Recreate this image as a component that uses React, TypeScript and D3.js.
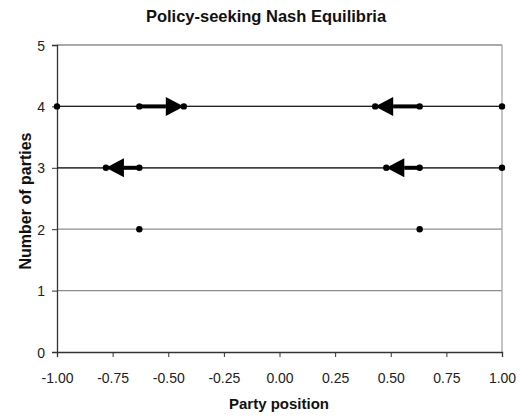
import React, { useEffect, useRef } from 'react';
import * as d3 from 'd3';

// Nash equilibrium positions for each number of parties
const parties = [4, 3, 2];
const positions4 = [-1.0, -0.63, 0.63, 1.0];
const positions3 = [-0.63, 0.63, 1.0];
const positions2 = [-0.63, 0.63];
// extent of the dark series line per row (row 2 has none)
const lineSpan4 = [-1.0, 1.0];
const lineSpan3 = [-1.0, 1.0];

// arrows: row, start position, end position
const arrowRows = [4, 4, 3, 3];
const arrowFrom = [-0.63, 0.63, -0.63, 0.63];
const arrowTo = [-0.43, 0.43, -0.78, 0.48];

const xTicks = [-1, -0.75, -0.5, -0.25, 0, 0.25, 0.5, 0.75, 1];
const yTicks = [0, 1, 2, 3, 4, 5];

export default function App() {
  const ref = useRef<SVGSVGElement | null>(null);

  useEffect(() => {
    const width = 524;
    const height = 416;
    const left = 57, right = 502, top = 45, bottom = 352;
    const font = "'Liberation Sans', Arial, sans-serif";

    const svg = d3.select(ref.current);
    svg.selectAll('*').remove();
    svg.attr('width', width).attr('height', height).style('font-family', font);

    const x = d3.scaleLinear().domain([-1, 1]).range([left, right]);
    const y = d3.scaleLinear().domain([0, 5]).range([bottom, top]);

    // gridlines
    svg.append('g').selectAll('line').data(yTicks.filter(d => d > 0)).join('line')
      .attr('x1', left).attr('x2', right)
      .attr('y1', d => y(d)).attr('y2', d => y(d))
      .attr('stroke', '#8c8c8c').attr('stroke-width', 1.3);

    // right border
    svg.append('line')
      .attr('x1', right).attr('x2', right).attr('y1', top).attr('y2', bottom)
      .attr('stroke', '#a6a6a6').attr('stroke-width', 1.3);

    const fmt = (d: number) => d.toFixed(2);

    // axes
    const xAxis = svg.append('g')
      .attr('transform', `translate(0,${bottom})`)
      .call(d3.axisBottom(x).tickValues(xTicks).tickFormat(d => fmt(+d)).tickSizeOuter(0).tickSize(5).tickPadding(16));
    const yAxis = svg.append('g')
      .attr('transform', `translate(${left},0)`)
      .call(d3.axisLeft(y).tickValues(yTicks).tickFormat(d => String(d)).tickSizeOuter(0).tickSize(5).tickPadding(7));
    [xAxis, yAxis].forEach(g => {
      g.selectAll('.domain').attr('stroke', '#333').attr('stroke-width', 1.3);
      g.selectAll('.tick line').attr('stroke', '#333');
      g.selectAll('text').attr('font-size', 14).attr('fill', '#222').style('font-family', font);
    });
    yAxis.selectAll('text').attr('dy', '0.36em');

    // series lines + markers
    const spans = [lineSpan4, lineSpan3, null];
    const series = [positions4, positions3, positions2];
    series.forEach((pts, i) => {
      const row = parties[i];
      const span = spans[i];
      if (span) {
        svg.append('line')
          .attr('x1', x(span[0])).attr('x2', x(span[1]))
          .attr('y1', y(row)).attr('y2', y(row))
          .attr('stroke', '#222').attr('stroke-width', 1.2);
      }
      svg.append('g').selectAll('circle').data(pts).join('circle')
        .attr('cx', d => x(d)).attr('cy', y(row)).attr('r', 3.2).attr('fill', '#000');
    });

    // arrows
    const headLen = 18, headHalf = 9.5;
    arrowRows.forEach((row, i) => {
      const x0 = x(arrowFrom[i]);
      const x1 = x(arrowTo[i]);
      const yy = y(row);
      const dir = x1 > x0 ? 1 : -1;
      const base = x1 - dir * headLen;
      svg.append('line')
        .attr('x1', x0).attr('x2', base).attr('y1', yy).attr('y2', yy)
        .attr('stroke', '#000').attr('stroke-width', 4);
      svg.append('path')
        .attr('d', d3.line()([[x1, yy], [base, yy - headHalf], [base, yy + headHalf]]) + 'Z')
        .attr('fill', '#000');
      svg.append('circle').attr('cx', x1).attr('cy', yy).attr('r', 3.2).attr('fill', '#000');
    });

    // titles
    svg.append('text').attr('x', 266).attr('y', 22).attr('text-anchor', 'middle')
      .attr('font-size', 16.5).attr('font-weight', 'bold').attr('fill', '#111')
      .text('Policy-seeking Nash Equilibria');
    svg.append('text').attr('x', 279).attr('y', 409).attr('text-anchor', 'middle')
      .attr('font-size', 15).attr('font-weight', 'bold').attr('fill', '#111')
      .text('Party position');
    svg.append('text').attr('transform', 'translate(31,201) rotate(-90)').attr('text-anchor', 'middle')
      .attr('font-size', 16).attr('font-weight', 'bold').attr('fill', '#111')
      .text('Number of parties');
  }, []);

  return <svg ref={ref} style={{ position: 'absolute', left: 0, top: 0, background: '#fff' }}></svg>;
}
